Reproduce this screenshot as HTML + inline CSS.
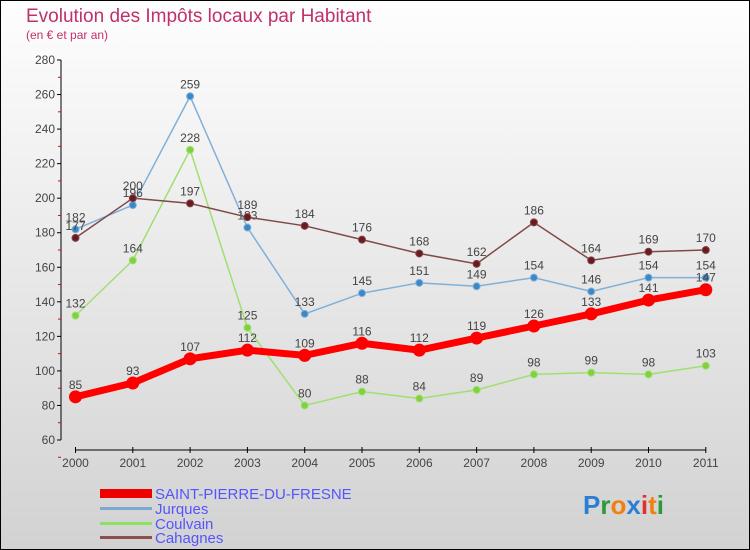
<!DOCTYPE html>
<html><head><meta charset="utf-8"><style>
body{margin:0}
#c{width:750px;height:550px;position:relative;box-sizing:border-box;border:1px solid #000;background:linear-gradient(#fefefe,#d2d2d2);font-family:"Liberation Sans",sans-serif;overflow:hidden}
</style></head><body>
<div id="c">
<svg id="s" width="750" height="550" style="position:absolute;left:-1px;top:-1px">
<text x="26" y="22" font-size="19" fill="#c0306a">Evolution des Impôts locaux par Habitant</text>
<text x="26" y="39" font-size="12" fill="#c0306a">(en € et par an)</text>
<g id="ax"></g><g id="ser"></g>
<g font-size="15" fill="#5555ff">
<rect x="100" y="489" width="52" height="9" fill="#e00"/>
<text x="155" y="499">SAINT-PIERRE-DU-FRESNE</text>
<rect x="100" y="507" width="52" height="3" fill="#7aaad0"/>
<text x="155" y="514">Jurques</text>
<rect x="100" y="522" width="52" height="3" fill="#8ee060"/>
<text x="155" y="529">Coulvain</text>
<rect x="100" y="536" width="52" height="3" fill="#8a5050"/>
<text x="155" y="543">Cahagnes</text>
</g>
<text x="583" y="514" font-size="26" font-weight="bold"><tspan fill="#2a7fd4">P</tspan><tspan fill="#2a9a3a">r</tspan><tspan fill="#f08010">o</tspan><tspan fill="#2a7fd4">x</tspan><tspan fill="#e03030">i</tspan><tspan fill="#f08010">t</tspan><tspan fill="#2a9a3a">i</tspan></text>
</svg>
</div>
<script>
const years=[2000,2001,2002,2003,2004,2005,2006,2007,2008,2009,2010,2011];
const yTicks=[60,80,100,120,140,160,180,200,220,240,260,280];
const spdf=[85,93,107,112,109,116,112,119,126,133,141,147];
const jurques=[182,196,259,183,133,145,151,149,154,146,154,154];
const coulvain=[132,164,228,125,80,88,84,89,98,99,98,103];
const cahagnes=[177,200,197,189,184,176,168,162,186,164,169,170];
const NS="http://www.w3.org/2000/svg";
function X(i){return 75.5+i*57.3;}
function Y(v){return 60+(280-v)*(380/220);}
function mk(t,a,p){const e=document.createElementNS(NS,t);for(const k in a)e.setAttribute(k,a[k]);p.appendChild(e);return e;}
const ax=document.getElementById('ax');
let l=mk('line',{x1:61,y1:Y(280),x2:61,y2:Y(60),stroke:'#000'},ax);


yTicks.forEach(v=>{
 mk('line',{x1:57,x2:61,y1:Y(v),y2:Y(v),stroke:'#000'},ax);
 mk('line',{x1:58,x2:61,y1:Y(v-10),y2:Y(v-10),stroke:'#e00'},ax);
 const t=mk('text',{x:55,y:Y(v)+4,'font-size':12,fill:'#444','text-anchor':'end'},ax);t.textContent=v;
 
 
});
l=mk('line',{x1:X(0),y1:450,x2:X(11),y2:450,stroke:'#000'},ax);


years.forEach((y,i)=>{
 mk('line',{x1:X(i),x2:X(i),y1:447,y2:453,stroke:'#000'},ax);
 const t=mk('text',{x:X(i),y:467,'font-size':12,fill:'#444','text-anchor':'middle'},ax);t.textContent=y;
 
 
});
const ser=document.getElementById('ser');
function draw(d,name,col,dot,w,r){
 const g=mk('g',{},ser);
 
 
 mk('polyline',{points:d.map((v,i)=>X(i)+','+Y(v)).join(' '),fill:'none',stroke:col,'stroke-width':w},g);
 d.forEach((v,i)=>{
  const c=mk('circle',{cx:X(i),cy:Y(v),r:r,fill:dot,stroke:col,'stroke-width':1},g);
  
  
  const t=mk('text',{x:X(i),y:Y(v)-8,'font-size':12,fill:'#444','text-anchor':'middle'},g);t.textContent=v;
  
  
 });
}
draw(coulvain,'coulvain','#9ee070','#80d040',1.5,3.5);
draw(jurques,'jurques','#80b0d8','#3a88c8',1.5,3.5);
draw(cahagnes,'cahagnes','#804848','#6a1a20',1.5,3.5);
draw(spdf,'saint-pierre','#f00','#f00',7,6);
</script>
</body></html>
